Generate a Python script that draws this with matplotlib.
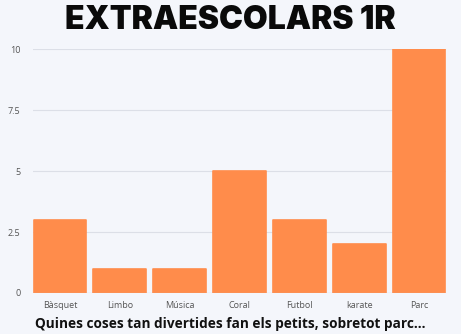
import matplotlib.pyplot as plt

# data
categories = ['Bàsquet', 'Limbo', 'Música', 'Coral', 'Futbol', 'karate', 'Parc']
values = [3, 1, 1, 5, 3, 2, 10]
yticks = [0, 2.5, 5, 7.5, 10]
ytick_labels = ['0', '2.5', '5', '7.5', '10']

bg = '#f4f6fb'
bar_color = '#ff8c4b'

fig = plt.figure(figsize=(4.61, 3.34), dpi=100, facecolor=bg)
ax = fig.add_axes([0.0716, 0.1228, 0.896, 0.7302], facecolor=bg)

x = range(len(categories))
ax.bar(x, values, width=0.88, color=bar_color, edgecolor=bar_color,
       linewidth=1.2, joinstyle='round', zorder=3)

ax.set_xlim(-0.45, len(categories) - 0.55)
ax.set_ylim(0, 10)
ax.set_yticks(yticks)
ax.set_yticklabels(ytick_labels)
ax.set_xticks(list(x))
ax.set_xticklabels(categories)
ax.grid(axis='y', color='#dcdfe7', linewidth=0.8, zorder=0)
for s in ax.spines.values():
    s.set_visible(False)
ax.axhline(0, color='#c9ccd6', linewidth=0.8, zorder=4)
ax.tick_params(length=0, labelsize=6.5, labelcolor='#555555', pad=6,
               labelfontfamily='Open Sans')
ax.tick_params(axis='y', pad=9)

fig.text(0.5, 0.94, 'EXTRAESCOLARS 1R', ha='center', va='center',
         fontsize=23, fontweight='black', family='Inter', color='#0a0a0a')
fig.text(0.5, 0.03, 'Quines coses tan divertides fan els petits, sobretot parc...',
         ha='center', va='center', fontsize=9.8, fontweight='bold',
         family='Open Sans', color='#111111')

fig.savefig('out.png', dpi=100, facecolor=bg)
